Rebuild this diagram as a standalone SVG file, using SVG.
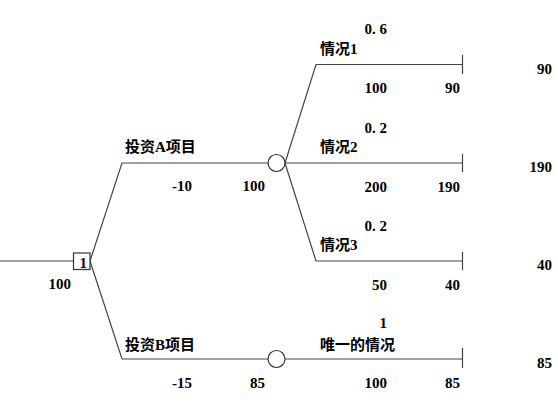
<svg xmlns="http://www.w3.org/2000/svg" width="558" height="419" viewBox="0 0 558 419">
<style>
.ln{stroke:#444;stroke-width:1.2;fill:none}
.nd{stroke:#333;stroke-width:1.2;fill:#fff}
text{font-family:"Liberation Serif","Noto Sans CJK SC",serif;font-size:15px;font-weight:bold;fill:#000}
.e{text-anchor:end}
</style>
<rect width="558" height="419" fill="#fff"/>
<g id="connectors">
<path class="ln" d="M0 261H73.5"/>
<path class="ln" d="M90 261L122 163H268"/>
<path class="ln" d="M90 261L122 359H268"/>
<path class="ln" d="M285 163L316 64.5H462.5"/>
<path class="ln" d="M285 163H462.5"/>
<path class="ln" d="M285 163L316 261H462.5"/>
<path class="ln" d="M285 359H462.5"/>
<path class="ln" d="M462.5 55V74M462.5 154V172M462.5 252V270M462.5 348V368"/>
</g>
<g id="decision">
<rect class="nd" x="73.5" y="253" width="16.5" height="16.5"/>
<text x="87" y="268" class="e">1</text>
<text x="71" y="289" class="e">100</text>
</g>
<g id="branchA">
<text x="125" y="152">投资A项目</text>
<text x="192" y="191" class="e">-10</text>
<text x="265" y="191" class="e">100</text>
</g>
<g id="chanceA">
<circle class="nd" cx="276.5" cy="163" r="8.5"/>
</g>
<g id="case1">
<text x="387" y="34" class="e">0. 6</text>
<text x="320" y="54">情况1</text>
<text x="387" y="93" class="e">100</text>
<text x="460" y="93" class="e">90</text>
<text x="552" y="74" class="e">90</text>
</g>
<g id="case2">
<text x="387" y="133" class="e">0. 2</text>
<text x="320" y="152">情况2</text>
<text x="387" y="192" class="e">200</text>
<text x="460" y="192" class="e">190</text>
<text x="552" y="172" class="e">190</text>
</g>
<g id="case3">
<text x="387" y="231" class="e">0. 2</text>
<text x="320" y="250">情况3</text>
<text x="387" y="290" class="e">50</text>
<text x="460" y="290" class="e">40</text>
<text x="552" y="270" class="e">40</text>
</g>
<g id="branchB">
<text x="125" y="350">投资B项目</text>
<text x="192" y="388" class="e">-15</text>
<text x="265" y="388" class="e">85</text>
</g>
<g id="chanceB">
<circle class="nd" cx="276.5" cy="359" r="8.5"/>
</g>
<g id="caseB">
<text x="387" y="328" class="e">1</text>
<text x="320" y="350">唯一的情况</text>
<text x="387" y="388" class="e">100</text>
<text x="460" y="388" class="e">85</text>
<text x="552" y="368" class="e">85</text>
</g>
</svg>
